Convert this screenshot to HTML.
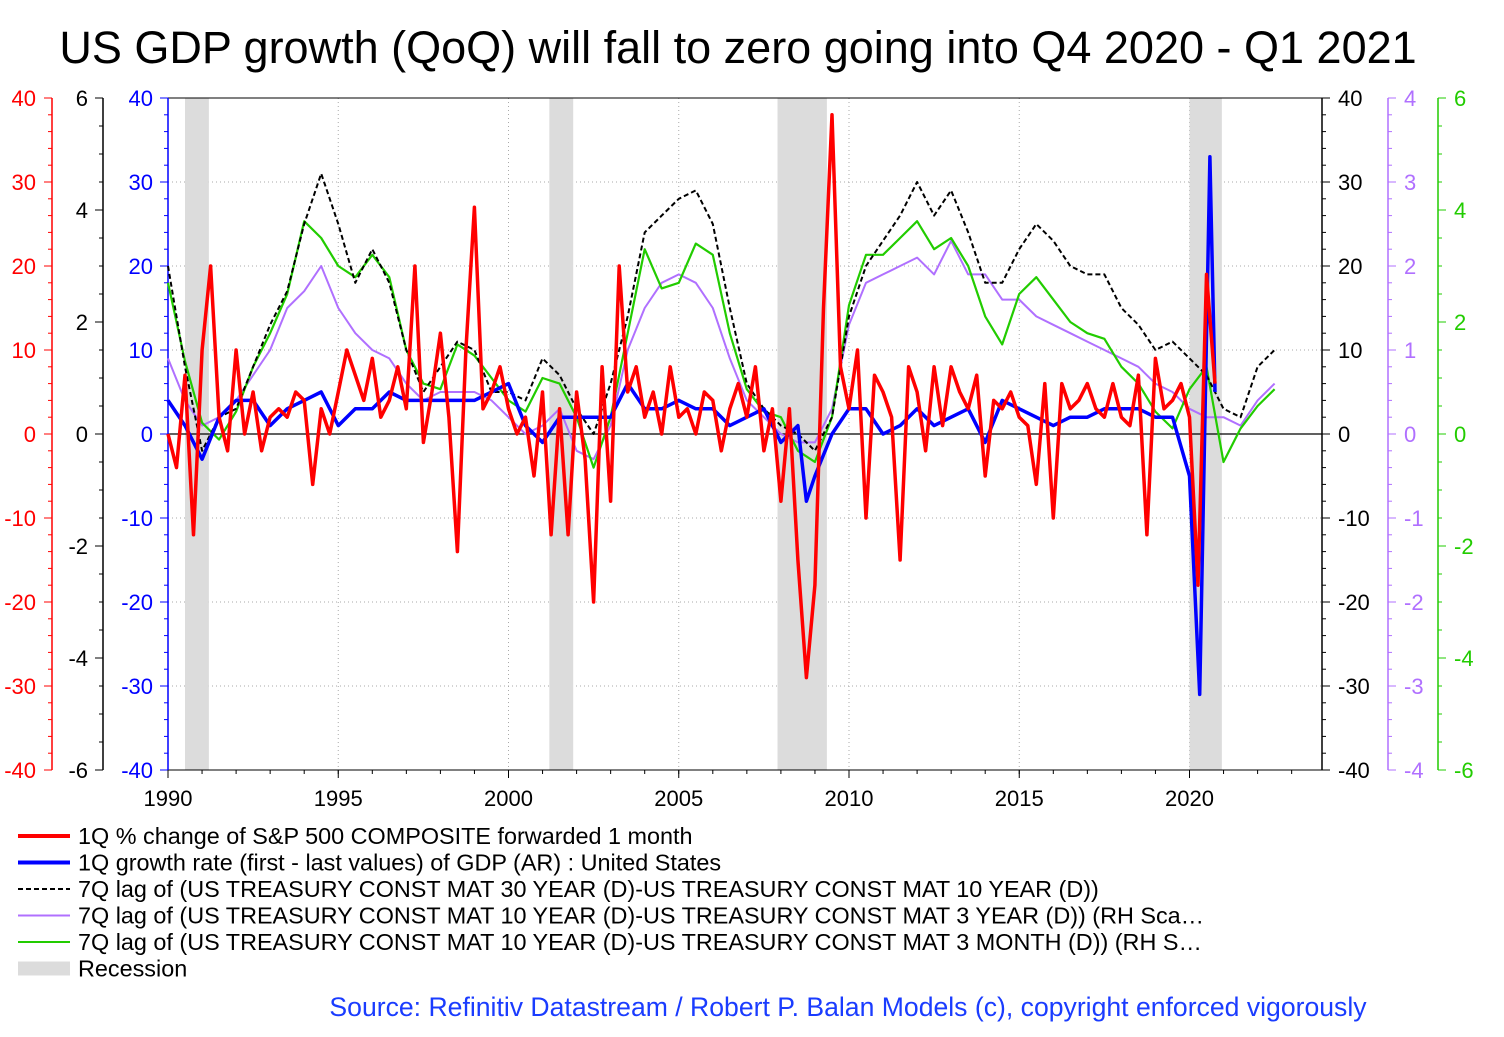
<!DOCTYPE html>
<html><head><meta charset="utf-8"><style>
body{margin:0;background:#fff;width:1504px;height:1032px;overflow:hidden;font-family:"Liberation Sans",Arial,sans-serif}
svg text{font-family:"Liberation Sans",Arial,sans-serif}
</style></head><body>
<svg id="c" width="1504" height="1032" xmlns="http://www.w3.org/2000/svg">
<text x="738" y="63" font-size="45" text-anchor="middle" fill="#000">US GDP growth (QoQ) will fall to zero going into Q4 2020 - Q1 2021</text>
<g id="grid"></g><g id="rec"></g><g id="axes"></g><g id="series"></g><g id="legend"></g>
<text x="848" y="1016" font-size="26.6" text-anchor="middle" fill="#1a3cff">Source: Refinitiv Datastream /  Robert P. Balan Models (c), copyright enforced vigorously</text>
</svg>
<script>
const recessions=[[1990.5,1991.2],[2001.2,2001.9],[2007.9,2009.35],[2020.0,2020.95]];
const redT=[1990,1990.25,1990.5,1990.75,1991,1991.25,1991.5,1991.75,1992,1992.25,1992.5,1992.75,1993,1993.25,1993.5,1993.75,1994,1994.25,1994.5,1994.75,1995,1995.25,1995.5,1995.75,1996,1996.25,1996.5,1996.75,1997,1997.25,1997.5,1997.75,1998,1998.25,1998.5,1998.75,1999,1999.25,1999.5,1999.75,2000,2000.25,2000.5,2000.75,2001,2001.25,2001.5,2001.75,2002,2002.25,2002.5,2002.75,2003,2003.25,2003.5,2003.75,2004,2004.25,2004.5,2004.75,2005,2005.25,2005.5,2005.75,2006,2006.25,2006.5,2006.75,2007,2007.25,2007.5,2007.75,2008,2008.25,2008.5,2008.75,2009,2009.25,2009.5,2009.75,2010,2010.25,2010.5,2010.75,2011,2011.25,2011.5,2011.75,2012,2012.25,2012.5,2012.75,2013,2013.25,2013.5,2013.75,2014,2014.25,2014.5,2014.75,2015,2015.25,2015.5,2015.75,2016,2016.25,2016.5,2016.75,2017,2017.25,2017.5,2017.75,2018,2018.25,2018.5,2018.75,2019,2019.25,2019.5,2019.75,2020,2020.25,2020.5,2020.75];
const redV=[0,-4,7,-12,10,20,2,-2,10,0,5,-2,2,3,2,5,4,-6,3,0,5,10,7,4,9,2,4,8,3,20,-1,5,12,2,-14,10,27,3,5,8,3,0,2,-5,5,-12,3,-12,5,-3,-20,8,-8,20,5,8,2,5,0,8,2,3,0,5,4,-2,3,6,2,8,-2,3,-8,3,-15,-29,-18,15,38,8,3,10,-10,7,5,2,-15,8,5,-2,8,1,8,5,3,7,-5,4,3,5,2,1,-6,6,-10,6,3,4,6,3,2,6,2,1,7,-12,9,3,4,6,2,-18,19,6];
const blueT=[1990,1990.5,1991,1991.5,1992,1992.5,1993,1993.5,1994,1994.5,1995,1995.5,1996,1996.5,1997,1997.5,1998,1998.5,1999,1999.5,2000,2000.5,2001,2001.5,2002,2002.5,2003,2003.5,2004,2004.5,2005,2005.5,2006,2006.5,2007,2007.5,2008,2008.5,2008.75,2009,2009.5,2010,2010.5,2011,2011.5,2012,2012.5,2013,2013.5,2014,2014.5,2015,2015.5,2016,2016.5,2017,2017.5,2018,2018.5,2019,2019.5,2020,2020.3,2020.6,2020.75];
const blueV=[4,1,-3,2,4,4,1,3,4,5,1,3,3,5,4,4,4,4,4,5,6,1,-1,2,2,2,2,6,3,3,4,3,3,1,2,3,-1,1,-8,-5,0,3,3,0,1,3,1,2,3,-1,4,3,2,1,2,2,3,3,3,2,2,-5,-31,33,5];
const halfT=[1990,1990.5,1991,1991.5,1992,1992.5,1993,1993.5,1994,1994.5,1995,1995.5,1996,1996.5,1997,1997.5,1998,1998.5,1999,1999.5,2000,2000.5,2001,2001.5,2002,2002.5,2003,2003.5,2004,2004.5,2005,2005.5,2006,2006.5,2007,2007.5,2008,2008.5,2009,2009.5,2010,2010.5,2011,2011.5,2012,2012.5,2013,2013.5,2014,2014.5,2015,2015.5,2016,2016.5,2017,2017.5,2018,2018.5,2019,2019.5,2020,2020.5,2021,2021.5,2022,2022.5];
const blackV=[20,8,-2,2,3,8,13,17,25,31,25,18,22,18,10,5,8,11,10,5,5,4,9,7,3,0,6,14,24,26,28,29,25,15,6,3,1,0,-2,2,14,20,23,26,30,26,29,24,18,18,22,25,23,20,19,19,15,13,10,11,9,7,3,2,8,10];
const purpleV=[0.9,0.4,0.1,0.2,0.4,0.7,1.0,1.5,1.7,2.0,1.5,1.2,1.0,0.9,0.6,0.4,0.5,0.5,0.5,0.4,0.2,0.0,0.1,0.3,-0.2,-0.3,0.1,1.0,1.5,1.8,1.9,1.8,1.5,0.9,0.4,0.2,0.0,-0.1,-0.1,0.3,1.3,1.8,1.9,2.0,2.1,1.9,2.3,1.9,1.9,1.6,1.6,1.4,1.3,1.2,1.1,1.0,0.9,0.8,0.6,0.5,0.3,0.2,0.2,0.1,0.4,0.6];
const greenV=[2.7,1.3,0.2,-0.1,0.4,1.2,1.8,2.5,3.8,3.5,3.0,2.8,3.2,2.8,1.5,0.9,0.8,1.6,1.4,1.0,0.6,0.4,1.0,0.9,0.3,-0.6,0.3,1.8,3.3,2.6,2.7,3.4,3.2,1.8,0.8,0.4,0.3,-0.3,-0.5,0.3,2.3,3.2,3.2,3.5,3.8,3.3,3.5,3.0,2.1,1.6,2.5,2.8,2.4,2.0,1.8,1.7,1.2,0.9,0.4,0.1,0.8,1.2,-0.5,0.1,0.5,0.8];
const xTicks=[1990,1995,2000,2005,2010,2015,2020];
const L=168,R=1322,T=98,B=770;
const X=t=>L+(t-1990)*34.05;
const Y40=v=>434-v*8.4, Y6=v=>434-v*56, Y4=v=>434-v*84;
const NS='http://www.w3.org/2000/svg';
function mk(tag,attrs,parent,txt){const e=document.createElementNS(NS,tag);for(const k in attrs)e.setAttribute(k,attrs[k]);if(txt!==undefined)e.textContent=txt;document.getElementById(parent).appendChild(e);return e;}
xTicks.forEach(t=>{const e=mk('line',{x1:X(t),x2:X(t),y1:T,y2:B,stroke:'#aaa','stroke-dasharray':'1,3'},'grid');

});
for(let v=-30;v<=30;v+=10){if(v===0)continue;const e=mk('line',{x1:L,x2:R,y1:Y40(v),y2:Y40(v),stroke:'#aaa','stroke-dasharray':'1,3'},'grid');

}
recessions.forEach(r=>{const e=mk('rect',{x:X(r[0]),y:T,width:X(r[1])-X(r[0]),height:B-T,fill:'#dcdcdc'},'rec');

});
const fr=mk('rect',{x:L,y:T,width:R-L,height:B-T,fill:'none',stroke:'#000','stroke-width':1},'axes');


const z=mk('line',{x1:L,x2:R,y1:434,y2:434,stroke:'#000','stroke-width':1.2},'axes');


function axis(x,min,max,step,minor,color,labelX,anchor,side,name){
 mk('line',{x1:x,x2:x,y1:T,y2:B,stroke:color,'stroke-width':1.5},'axes');
 const yf=v=>434-v*(336/max);
 for(let v=min;v<=max+1e-9;v+=minor){const y=yf(v);const major=Math.abs(v/step-Math.round(v/step))<1e-6;
  mk('line',{x1:x,x2:x+side*(major?8:4),y1:y,y2:y,stroke:color},'axes');
  if(major){const e=mk('text',{x:labelX,y:y+8,'font-size':22,fill:color,'text-anchor':anchor},'axes',String(Math.round(v)));
  
  }}
}
axis(52,-40,40,10,2,'#ff0000',36,'end',-1,'left-red-axis');
axis(103,-6,6,2,0.5,'#000',88,'end',-1,'left-black-axis');
axis(168,-40,40,10,2,'#0000ff',153,'end',-1,'left-blue-axis');
axis(1322,-40,40,10,2,'#000',1338,'start',1,'right-black-axis');
axis(1388,-4,4,1,0.2,'#b070ff',1404,'start',1,'right-purple-axis');
axis(1438,-6,6,2,0.5,'#22cc00',1454,'start',1,'right-green-axis');
xTicks.forEach(t=>{const e=mk('text',{x:X(t),y:806,'font-size':22,'text-anchor':'middle',fill:'#000'},'axes',String(t));


mk('line',{x1:X(t),x2:X(t),y1:B,y2:B+8,stroke:'#000'},'axes');});
for(let t=1990;t<=2023;t++)mk('line',{x1:X(t),x2:X(t),y1:B,y2:B+4,stroke:'#000'},'axes');
function line(ts,vs,yf,color,w,dash,name){const d=vs.map((v,i)=>(i?'L':'M')+X(ts[i]).toFixed(1)+','+yf(v).toFixed(1)).join('');
 const a={d:d,fill:'none',stroke:color,'stroke-width':w,'stroke-linejoin':'round'};if(dash)a['stroke-dasharray']=dash;
 const e=mk('path',a,'series');
 
 }
line(halfT,purpleV,Y4,'#b070ff',2,null,'purple-10y-3y-series');
line(halfT,greenV,Y6,'#22cc00',2.2,null,'green-10y-3m-series');
line(halfT,blackV,Y40,'#000',2,'5,3','black-30y-10y-series');
line(blueT,blueV,Y40,'#0000ff',3.5,null,'blue-gdp-series');
line(redT,redV,Y40,'#ff0000',3.5,null,'red-sp500-series');
const leg=[['#ff0000',null,'1Q % change of S&P 500 COMPOSITE forwarded 1 month'],['#0000ff',null,'1Q growth rate (first - last values) of GDP (AR) : United States'],['#000','5,3','7Q lag of (US TREASURY CONST MAT 30 YEAR (D)-US TREASURY CONST MAT 10 YEAR (D))'],['#b070ff',null,'7Q lag of (US TREASURY CONST MAT 10 YEAR (D)-US TREASURY CONST MAT 3 YEAR (D)) (RH Sca…'],['#22cc00',null,'7Q lag of (US TREASURY CONST MAT 10 YEAR (D)-US TREASURY CONST MAT 3 MONTH (D)) (RH S…'],['rec',null,'Recession']];
leg.forEach((l,i)=>{const y=836+i*26.5;
 if(l[0]==='rec')mk('rect',{x:18,y:y-7,width:52,height:14,fill:'#dcdcdc'},'legend');
 else{const a={x1:18,x2:70,y1:y,y2:y,stroke:l[0],'stroke-width':l[0]==='#ff0000'||l[0]==='#0000ff'?4:2};if(l[1])a['stroke-dasharray']=l[1];mk('line',a,'legend');}
 const e=mk('text',{x:78,y:y+8,'font-size':23.4,fill:'#000'},'legend',l[2]);
 
 });
</script>
</body></html>
